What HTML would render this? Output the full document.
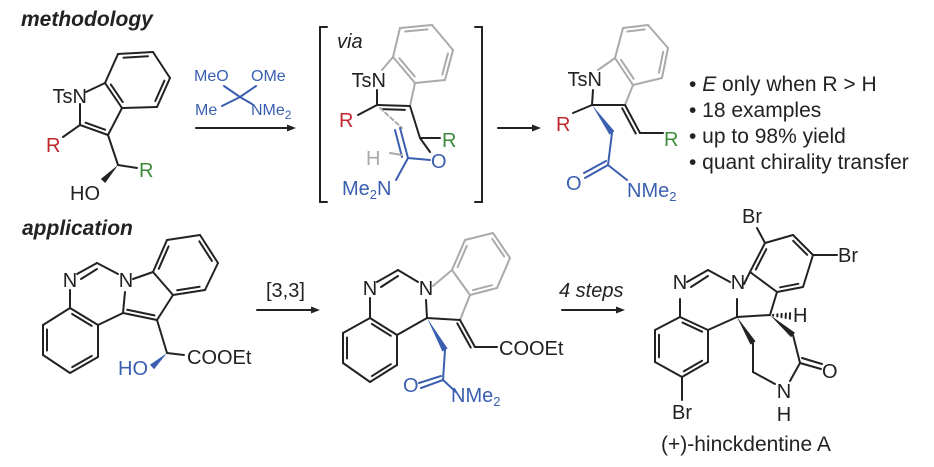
<!DOCTYPE html>
<html><head><meta charset="utf-8">
<style>
html,body{margin:0;padding:0;background:#fff;}
svg{display:block;}
text{font-family:"Liberation Sans",sans-serif;}
</style></head>
<body>
<svg id="s" width="934" height="467" viewBox="0 0 934 467" xmlns="http://www.w3.org/2000/svg">
<g id="g" fill="none" stroke-linecap="round" stroke-linejoin="round" stroke-width="2"></g>
<g font-size="20">
<text x="21" y="26" font-weight="bold" font-style="italic" font-size="21" fill="#222">methodology</text>
<text x="22" y="235" font-weight="bold" font-style="italic" font-size="21" fill="#222">application</text>
<!-- SM1 -->
<text x="87" y="103" text-anchor="end" fill="#222">TsN</text>
<text x="46" y="152" fill="#c0282d">R</text>
<text x="139" y="177" fill="#3d8a3a">R</text>
<text x="70" y="200" fill="#222">HO</text>
<!-- reagent -->
<g fill="#3a5fb0" font-size="16">
<text x="194" y="81">MeO</text><text x="251" y="81">OMe</text>
<text x="195" y="115">Me</text><text x="251" y="115">NMe<tspan font-size="12" dy="4">2</tspan></text>
</g>
<!-- intermediate -->
<text x="337" y="48" font-style="italic" fill="#222">via</text>
<text x="386" y="87" text-anchor="end" fill="#222">TsN</text>
<text x="339" y="127" fill="#c0282d">R</text>
<text x="442" y="147" fill="#3d8a3a">R</text>
<text x="366" y="165" fill="#aaa">H</text>
<text x="431" y="168" fill="#3a5fb0">O</text>
<text x="342" y="195" fill="#3a5fb0">Me<tspan font-size="13" dy="4">2</tspan><tspan dy="-4">N</tspan></text>
<!-- product -->
<text x="602" y="86" text-anchor="end" fill="#222">TsN</text>
<text x="556" y="131" fill="#c0282d">R</text>
<text x="664" y="146" fill="#3d8a3a">R</text>
<text x="566" y="190" fill="#3a5fb0">O</text>
<text x="627" y="197" fill="#3a5fb0">NMe<tspan font-size="13" dy="4">2</tspan></text>
<g fill="#222" font-size="21">
<text x="689" y="91"><tspan>• </tspan><tspan font-style="italic">E</tspan> only when R &gt; H</text>
<text x="689" y="117">• 18 examples</text>
<text x="689" y="143">• up to 98% yield</text>
<text x="689" y="169">• quant chirality transfer</text>
</g>
<!-- bottom -->
<g fill="#222">
<g text-anchor="middle">
<text x="70" y="287">N</text><text x="126" y="287">N</text>
<text x="370" y="295">N</text><text x="426" y="295">N</text>
<text x="680" y="289">N</text><text x="738" y="289">N</text>
<text x="784" y="398">N</text><text x="784" y="421">H</text>
</g>
<text x="187" y="364">COOEt</text>
<text x="266" y="297">[3,3]</text>
<text x="499" y="355">COOEt</text>
<text x="559" y="297" font-style="italic">4 steps</text>
<text x="742" y="223">Br</text>
<text x="838" y="262">Br</text>
<text x="793" y="322">H</text>
<text x="822" y="378">O</text>
<text x="672" y="419">Br</text>
<text x="661" y="451" font-size="21">(+)-hinckdentine A</text>
</g>
<text x="118" y="375" fill="#3a5fb0">HO</text>
<text x="403" y="392" fill="#3a5fb0">O</text>
<text x="451" y="402" fill="#3a5fb0">NMe<tspan font-size="13" dy="4">2</tspan></text>
</g>
</svg>
<script>
var g=document.getElementById('g');var NS='http://www.w3.org/2000/svg';
var K='#222',B='#3a5fb0',G='#aaa';
function L(a,b,c,x){c=c||K;var e=document.createElementNS(NS,'line');e.setAttribute('x1',a[0]);e.setAttribute('y1',a[1]);e.setAttribute('x2',b[0]);e.setAttribute('y2',b[1]);e.setAttribute('stroke',c);if(x)e.setAttribute('stroke-dasharray',x);g.appendChild(e);}
function P(pts,c){var e=document.createElementNS(NS,'polygon');e.setAttribute('points',pts.map(function(p){return p.join(',')}).join(' '));e.setAttribute('fill',c);e.setAttribute('stroke','none');g.appendChild(e);}
function D(a,b,cx,cy,c,sh){sh=sh===undefined?0.15:sh;var dx=b[0]-a[0],dy=b[1]-a[1];var len=Math.hypot(dx,dy);var nx=-dy/len,ny=dx/len;var mx=(a[0]+b[0])/2,my=(a[1]+b[1])/2;if((cx-mx)*nx+(cy-my)*ny<0){nx=-nx;ny=-ny;}var o=4;L([a[0]+dx*sh+nx*o,a[1]+dy*sh+ny*o],[b[0]-dx*sh+nx*o,b[1]-dy*sh+ny*o],c);}
function R(pts,dbl,c){for(var i=0;i<pts.length;i++)L(pts[i],pts[(i+1)%pts.length],c);var cx=0,cy=0;pts.forEach(function(p){cx+=p[0];cy+=p[1]});cx/=pts.length;cy/=pts.length;dbl.forEach(function(i){D(pts[i],pts[(i+1)%pts.length],cx,cy,c)});}
function W(a,b,c){var dx=b[0]-a[0],dy=b[1]-a[1],l=Math.hypot(dx,dy),nx=-dy/l*3,ny=dx/l*3;P([a,[b[0]+nx,b[1]+ny],[b[0]-nx,b[1]-ny]],c||K);}
function H(a,b){for(var t=0.15;t<=1;t+=0.2){var dx=b[0]-a[0],dy=b[1]-a[1],l=Math.hypot(dx,dy),w=3*t;var p=[a[0]+dx*t,a[1]+dy*t];L([p[0]-dy/l*w,p[1]+dx/l*w],[p[0]+dy/l*w,p[1]-dx/l*w]);}}
function A(x1,x2,y){L([x1,y],[x2-6,y]);P([[x2,y],[x2-9,y-3.5],[x2-9,y+3.5]],K);}
var b1=[[105,83],[118,54],[153,52],[170,78],[157,107],[122,108]];R(b1,[1,3,5],K);
L([105,83],[86,92]);L([80,104],[80,125]);L([80,125],[108,135]);D([80,125],[108,135],100,115,K);L([108,135],[122,108]);
L([80,125],[63,137]);L([108,135],[118,165]);L([118,165],[137,168]);W([118,165],[103,181]);
L([224,86],[240,97],B);L([256,86],[240,97],B);L([240,97],[222,106],B);L([240,97],[252,104],B);
A(196,296,128);
L([327,27],[320,27]);L([320,27],[320,202]);L([320,202],[327,202]);
L([475,27],[482,27]);L([482,27],[482,202]);L([482,202],[475,202]);
var b2=[[393,57],[400,28],[432,25],[453,50],[445,80],[415,83]];R(b2,[1,3,5],G);
L([393,57],[382,70],G);L([377,90],[377,105]);L([377,105],[410,106]);D([377,105],[410,106],395,125,K);L([410,106],[415,83],G);
L([377,105],[358,115]);L([410,106],[420,138]);L([420,138],[440,138]);L([420,138],[430,152]);
L([380,108],[402,128],G,'4,3');
L([400,128],[408,158],B);L([395,130],[402,157],B);L([408,158],[430,160],B);L([390,153],[402,155],G);L([408,158],[396,180],B);
A(498,541,128);
var b3=[[615,58],[623,28],[648,25],[668,48],[662,78],[633,85]];R(b3,[1,3,5],G);
L([615,58],[598,70],G);L([593,90],[592,105]);L([592,105],[625,105]);L([625,105],[633,85],G);
L([592,105],[573,113]);L([625,105],[640,133]);D([625,105],[640,133],620,130,K,0.05);L([640,133],[663,133]);
W([592,105],[612,133],B);L([612,133],[608,165],B);L([608,165],[585,178],B);L([606,161],[584,173],B);L([608,165],[627,180],B);
L([70,290],[70,308]);L([77,274],[97,263]);L([81,279],[97,269]);L([97,263],[118,274]);
var q1=[[70,308],[43,325],[43,355],[70,373],[98,357],[98,325]];R(q1,[1,3,5],K);
L([98,325],[123,313]);L([123,313],[125,292]);L([133,279],[153,272]);
var i1=[[153,272],[167,240],[200,235],[218,263],[205,290],[173,295]];R(i1,[0,2,4],K);
L([123,313],[157,320]);D([123,313],[157,320],150,300,K,0.1);L([157,320],[173,295]);
L([157,320],[167,353]);L([167,353],[184,355]);W([167,353],[152,367],B);
A(257,320,310);
L([370,298],[370,318]);L([377,282],[398,270]);L([381,287],[398,276]);L([398,270],[418,282]);
var q2=[[370,318],[343,333],[343,363],[370,382],[397,365],[397,335]];R(q2,[1,3,5],K);
L([397,335],[427,318]);L([427,318],[426,300]);L([433,286],[452,270],G);
var i2=[[452,270],[465,240],[493,233],[510,258],[497,288],[470,295]];R(i2,[0,2,4],G);
L([470,295],[460,320],G);L([427,318],[460,320]);L([460,320],[475,347]);D([460,320],[475,347],455,345,K,0.05);L([475,347],[497,347]);
W([427,318],[445,350],B);L([445,350],[443,380],B);L([443,380],[421,388],B);L([441,376],[419,383],B);L([443,380],[456,392],B);
A(562,625,310);
L([680,299],[680,317]);L([687,282],[708,270]);L([691,287],[708,276]);L([708,270],[730,282]);
var q3=[[680,317],[655,330],[655,362],[682,377],[708,362],[708,330]];R(q3,[1,3,5],K);
L([682,377],[682,400]);
L([708,330],[737,317]);L([737,317],[737,299]);L([744,284],[750,272]);
var i3=[[750,272],[765,243],[793,235],[813,255],[803,287],[777,292]];R(i3,[0,2,4],K);
L([765,243],[757,228]);L([813,255],[837,255]);
L([737,317],[770,315]);L([770,315],[777,292]);H([770,315],[791,316]);
W([737,317],[753,343]);L([753,343],[753,372]);L([753,372],[775,384]);
W([770,315],[793,335]);L([793,335],[800,363]);L([800,363],[790,381]);L([800,363],[821,369]);L([802,358],[822,364]);
</script>
</body></html>
